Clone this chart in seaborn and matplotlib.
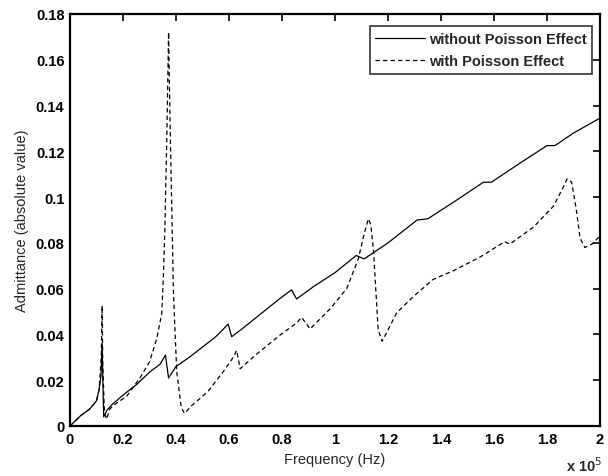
import numpy as np
import pandas as pd
import matplotlib
matplotlib.use("Agg")
import matplotlib.pyplot as plt
import seaborn as sns

# Frequency axis in units of 1e5 Hz
freq_without = [0.0, 0.04, 0.075, 0.10, 0.11, 0.117, 0.121, 0.124, 0.127, 0.14,
                0.16, 0.20, 0.25, 0.30, 0.34, 0.36, 0.372, 0.40, 0.45, 0.50,
                0.55, 0.597, 0.61, 0.65, 0.72, 0.79, 0.836, 0.855, 0.92, 1.0,
                1.08, 1.11, 1.2, 1.31, 1.35, 1.45, 1.56, 1.59, 1.70, 1.80,
                1.83, 1.90, 2.0]
adm_without = [0.0, 0.0045, 0.0075, 0.011, 0.016, 0.022, 0.036, 0.02, 0.004, 0.007,
               0.0095, 0.0135, 0.018, 0.0235, 0.027, 0.031, 0.021, 0.026, 0.030, 0.0345,
               0.039, 0.0445, 0.039, 0.0425, 0.049, 0.0555, 0.0595, 0.0555, 0.061, 0.067,
               0.0745, 0.073, 0.080, 0.090, 0.0905, 0.098, 0.1065, 0.1065, 0.115, 0.1225,
               0.1225, 0.128, 0.1345]

freq_with = [0.0, 0.04, 0.075, 0.10, 0.11, 0.118, 0.121, 0.124, 0.13, 0.138,
             0.15, 0.17, 0.214, 0.264, 0.30, 0.327, 0.346, 0.352, 0.358, 0.366,
             0.372, 0.378, 0.385, 0.39, 0.396, 0.403, 0.42, 0.432, 0.46, 0.52,
             0.58, 0.616, 0.629, 0.642, 0.70, 0.79, 0.855, 0.874, 0.906, 0.98,
             1.044, 1.088, 1.11, 1.126, 1.135, 1.145, 1.163, 1.178, 1.233, 1.30,
             1.37, 1.45, 1.55, 1.64, 1.66, 1.75, 1.824, 1.86, 1.876, 1.893,
             1.91, 1.925, 1.943, 1.97, 2.0]
adm_with = [0.0, 0.0045, 0.0075, 0.011, 0.016, 0.03, 0.0525, 0.025, 0.006, 0.003,
            0.0074, 0.0095, 0.013, 0.021, 0.028, 0.038, 0.049, 0.064, 0.086, 0.13,
            0.172, 0.13, 0.09, 0.06, 0.042, 0.0235, 0.008, 0.0055, 0.009, 0.015,
            0.024, 0.030, 0.033, 0.025, 0.031, 0.0395, 0.045, 0.0475, 0.0424, 0.051,
            0.060, 0.073, 0.084, 0.0905, 0.088, 0.077, 0.042, 0.037, 0.0495, 0.057,
            0.064, 0.068, 0.074, 0.0805, 0.0795, 0.087, 0.096, 0.104, 0.108, 0.1065,
            0.095, 0.082, 0.078, 0.0795, 0.083]

series_labels = ["without Poisson Effect", "with Poisson Effect"]
x_ticks = [0, 0.2, 0.4, 0.6, 0.8, 1, 1.2, 1.4, 1.6, 1.8, 2]
x_tick_labels = ["0", "0.2", "0.4", "0.6", "0.8", "1", "1.2", "1.4", "1.6", "1.8", "2"]
y_ticks = [0, 0.02, 0.04, 0.06, 0.08, 0.1, 0.12, 0.14, 0.16, 0.18]
y_tick_labels = ["0", "0.02", "0.04", "0.06", "0.08", "0.1", "0.12", "0.14", "0.16", "0.18"]

sns.set_style("white")
plt.rcParams["font.family"] = ["Liberation Sans", "DejaVu Sans"]

df_without = pd.DataFrame({"f": freq_without, "a": adm_without})
df_with = pd.DataFrame({"f": freq_with, "a": adm_with})

fig = plt.figure(figsize=(6.08, 4.77), dpi=100)
ax = fig.add_axes([70 / 608, 1 - 427 / 477, 530 / 608, 412 / 477])

sns.lineplot(data=df_without, x="f", y="a", ax=ax, color="black", linewidth=0.9,
             label=series_labels[0], sort=False, estimator=None)
sns.lineplot(data=df_with, x="f", y="a", ax=ax, color="black", linewidth=0.9,
             label=series_labels[1], sort=False, estimator=None)
ax.lines[1].set_dashes([3.5, 2.5])

ax.set_xlim(0, 2)
ax.set_ylim(0, 0.18)
ax.set_xticks(x_ticks)
ax.set_xticklabels(x_tick_labels, fontsize=10.5, fontweight="bold")
ax.set_yticks(y_ticks)
ax.set_yticklabels(y_tick_labels, fontsize=10.5, fontweight="bold")
ax.tick_params(direction="in", length=5, width=1.2, top=True, right=True,
               colors="black", pad=4)
for side in ax.spines.values():
    side.set_visible(True)
    side.set_color("black")
    side.set_linewidth(1.6)

ax.set_xlabel("Frequency (Hz)", fontsize=10.5, labelpad=5)
ax.set_ylabel("Admittance (absolute value)", fontsize=10.5, labelpad=5)
fig.text(584 / 608, 1 - 466 / 477, r"x 10$^{5}$", fontsize=10.5, ha="center",
         va="center", fontweight="bold")

leg = ax.legend(loc="upper right", bbox_to_anchor=(1 - 2 / 530, 1 - 6 / 412),
                prop={"size": 10.5, "weight": "bold"},
                frameon=True, fancybox=False, borderaxespad=0.4,
                handlelength=3.4, handletextpad=0.25, borderpad=0.4,
                labelspacing=0.6)
leg.get_frame().set_edgecolor("black")
leg.get_frame().set_linewidth(1.2)
leg.get_lines()[1].set_dashes([3.5, 2.5])

fig.savefig("out.png", dpi=100, facecolor="white")
